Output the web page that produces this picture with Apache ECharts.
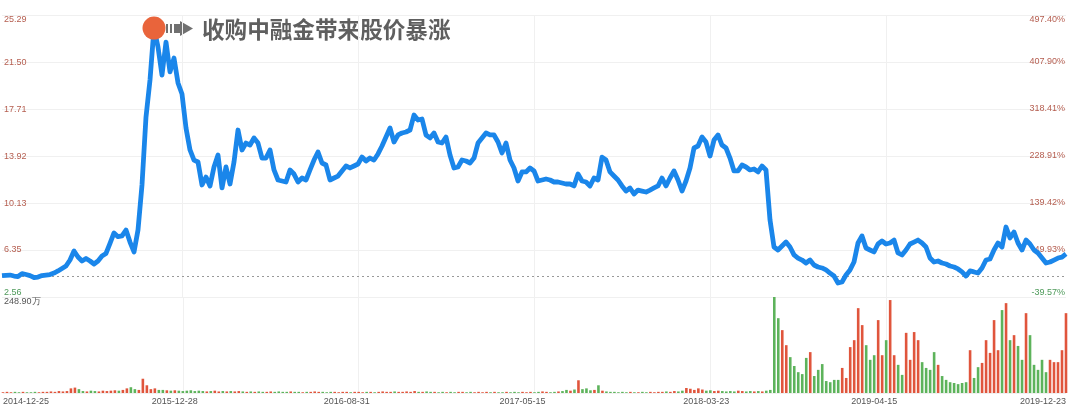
<!DOCTYPE html>
<html>
<head>
<meta charset="utf-8">
<script src="https://cdn.jsdelivr.net/npm/echarts@6/dist/echarts.min.js"></script>
<style>
html, body { margin: 0; padding: 0; background: #fff; }
#chart { width: 1080px; height: 409px; }
</style>
</head>
<body>
<div id="chart"></div>
<script>
// y axis ticks (price / change since base / volume)
var priceTicks = [2.56, 6.35, 10.13, 13.92, 17.71, 21.50, 25.29];
var pctTicks = [-39.57, 49.93, 139.42, 228.91, 318.41, 407.90, 497.40];
var basePrice = 4.236; // 0% line
var volMax = 248.90;   // 万

// x axis: index of each trading sample, labelled dates
var xLabelIdx = [0, 43, 86, 130, 176, 218, 266];
var xLabelText = ['2014-12-25', '2015-12-28', '2016-08-31', '2017-05-15', '2018-03-23', '2019-04-15', '2019-12-23'];
var gridLineIdx = [45, 89, 133, 177, 221];

var price = [
	4.28, 4.31, 4.33, 4.25, 4.21, 4.45, 4.37, 4.28, 4.13, 4.17,
	4.29, 4.33, 4.37, 4.49, 4.66, 4.86, 5.06, 5.54, 6.27, 5.78,
	5.46, 5.66, 5.46, 5.22, 5.46, 5.86, 6.07, 6.89, 7.72, 7.42,
	7.48, 7.96, 6.99, 6.19, 7.96, 11.59, 17.07, 20.05, 24.24, 22.71,
	20.45, 23.11, 20.70, 21.82, 19.81, 18.92, 16.18, 14.41, 13.60, 13.44,
	11.59, 12.23, 11.51, 13.04, 14.00, 11.35, 13.04, 11.67, 13.44, 16.02,
	14.41, 14.97, 14.81, 15.38, 14.97, 13.76, 13.76, 14.41, 12.80, 11.99,
	11.91, 11.83, 12.80, 12.47, 11.83, 12.15, 11.99, 12.80, 13.60, 14.25,
	13.36, 13.20, 11.99, 12.15, 12.31, 12.72, 13.12, 12.96, 13.12, 13.28,
	13.84, 13.52, 13.76, 13.60, 14.09, 14.73, 15.46, 16.18, 15.05, 15.62,
	15.78, 15.86, 16.02, 17.23, 16.83, 16.91, 15.62, 15.38, 15.78, 15.05,
	14.97, 15.46, 14.00, 12.96, 13.04, 13.60, 13.52, 13.36, 13.76, 14.97,
	15.38, 15.78, 15.62, 15.62, 15.05, 14.17, 14.97, 13.60, 12.96, 11.91,
	12.64, 12.64, 12.96, 12.72, 11.91, 11.99, 12.07, 11.99, 11.83, 11.83,
	11.75, 11.67, 11.67, 11.51, 12.47, 11.91, 11.83, 11.51, 12.15, 11.99,
	13.84, 13.60, 12.64, 12.31, 11.99, 11.51, 11.10, 11.35, 10.86, 11.18,
	11.10, 11.02, 11.18, 11.35, 11.51, 12.15, 11.51, 12.15, 12.72, 11.99,
	11.10, 11.91, 12.96, 14.57, 14.73, 15.46, 15.05, 13.92, 15.21, 15.62,
	14.81, 14.57, 13.76, 12.72, 12.72, 13.20, 13.04, 12.80, 12.88, 12.64,
	13.12, 12.80, 8.77, 6.59, 6.35, 6.67, 6.99, 6.59, 5.95, 5.70,
	5.54, 5.30, 5.54, 5.14, 4.98, 4.90, 4.74, 4.49, 4.25, 3.69,
	3.77, 4.33, 4.74, 5.38, 6.91, 7.48, 6.51, 6.35, 6.19, 6.83,
	7.07, 6.83, 6.91, 7.15, 6.11, 5.95, 6.35, 6.83, 6.99, 7.15,
	6.91, 6.59, 5.70, 5.38, 5.46, 5.30, 5.22, 5.06, 4.98, 4.82,
	4.58, 4.25, 4.66, 4.58, 4.49, 4.90, 5.54, 5.62, 6.35, 6.91,
	6.59, 8.20, 7.32, 7.80, 6.91, 6.35, 7.15, 6.83, 6.35, 6.11,
	5.70, 5.30, 5.38, 5.54, 5.70, 5.78, 6.03
];

// 成交量 (万)
var volume = [
	2, 3, 2, 3, 2, 3, 2, 2, 3, 2,
	3, 3, 4, 3, 5, 4, 5, 12, 14, 10,
	5, 4, 6, 5, 4, 6, 5, 6, 7, 6,
	8, 12, 15, 10, 8, 37, 20, 10, 12, 8,
	8, 7, 6, 7, 6, 5, 6, 7, 5, 6,
	5, 4, 5, 6, 4, 5, 4, 5, 4, 5,
	4, 3, 4, 3, 4, 3, 3, 4, 3, 4,
	3, 3, 4, 3, 3, 2, 3, 3, 4, 3,
	3, 2, 3, 3, 2, 3, 3, 2, 3, 3,
	2, 3, 3, 2, 3, 4, 3, 3, 4, 3,
	3, 4, 3, 5, 3, 3, 4, 3, 3, 2,
	3, 2, 3, 2, 3, 3, 2, 3, 2, 3,
	2, 3, 2, 3, 2, 2, 3, 2, 3, 2,
	3, 2, 3, 2, 3, 4, 3, 2, 3, 4,
	5, 8, 6, 9, 33, 10, 12, 7, 8, 20,
	6, 4, 3, 3, 2, 3, 2, 3, 2, 2,
	3, 2, 3, 2, 3, 3, 4, 3, 5, 4,
	6, 13, 11, 8, 12, 9, 6, 7, 5, 6,
	5, 4, 5, 4, 6, 5, 4, 5, 4, 5,
	4, 6, 8, 248.9, 194, 163, 124, 93, 70, 54,
	49, 91, 106, 44, 60, 75, 31, 28, 34, 34,
	65, 39, 119, 137, 220, 176, 124, 86, 98, 189,
	98, 137, 241, 98, 73, 47, 156, 86, 158, 137,
	80, 65, 60, 106, 73, 44, 34, 28, 26, 23,
	26, 28, 111, 39, 67, 78, 137, 104, 189, 111,
	215, 233, 137, 150, 122, 86, 207, 150, 73, 60,
	86, 54, 86, 80, 80, 111, 207
];

var upColor = '#e0553c';
var downColor = '#5db35b';
var labelRed = '#b55e50';
var labelGreen = '#4e9a5a';
var gridColor = '#f0f0f0';
var font = '"Liberation Sans", Arial, sans-serif';

var lastIdx = price.length - 1;
var priceData = price.map(function (v, i) { return [i, v]; });
var volData = volume.map(function (v, i) {
	var up = i === 0 ? true : price[i] >= price[i - 1];
	return { value: [i, v], itemStyle: { color: up ? upColor : downColor } };
});

var chart = echarts.init(document.getElementById('chart'));

chart.setOption({
	animation: false,
	backgroundColor: '#fff',
	grid: [
		{ left: 2, right: 14, top: 15, height: 282 },
		{ left: 2, right: 14, top: 297, height: 96 }
	],
	xAxis: [
		{
			type: 'value', gridIndex: 0, min: 0, max: lastIdx,
			axisLine: { show: false },
			axisTick: { show: false, customValues: gridLineIdx },
			axisLabel: { show: false },
			splitLine: { show: true, lineStyle: { color: gridColor } }
		},
		{
			type: 'value', gridIndex: 1, min: 0, max: lastIdx,
			axisLine: { show: false },
			axisTick: { show: false, customValues: gridLineIdx },
			axisLabel: {
				customValues: xLabelIdx,
				formatter: function (v) { return xLabelText[xLabelIdx.indexOf(v)]; },
				alignMinLabel: 'left',
				alignMaxLabel: 'right',
				color: '#555',
				fontSize: 9,
				fontFamily: font,
				margin: 4
			},
			splitLine: { show: true, lineStyle: { color: gridColor } }
		}
	],
	yAxis: [
		{
			type: 'value', gridIndex: 0, position: 'left',
			min: priceTicks[0], max: priceTicks[priceTicks.length - 1],
			axisLine: { show: false },
			axisTick: { show: false, customValues: priceTicks },
			axisLabel: {
				inside: true,
				margin: 2,
				customValues: priceTicks,
				formatter: function (v) { return v.toFixed(2); },
				color: function (v) { return v <= priceTicks[0] ? labelGreen : labelRed; },
				fontSize: 9,
				fontFamily: font,
				verticalAlignMinLabel: 'bottom',
				verticalAlignMaxLabel: 'top'
			},
			splitLine: { show: true, lineStyle: { color: gridColor } }
		},
		{
			type: 'value', gridIndex: 0, position: 'right',
			min: pctTicks[0], max: pctTicks[pctTicks.length - 1],
			axisLine: { show: false },
			axisTick: { show: false, customValues: pctTicks },
			axisLabel: {
				inside: true,
				margin: 1,
				customValues: pctTicks,
				formatter: function (v) { return v.toFixed(2) + '%'; },
				color: function (v) { return v < 0 ? labelGreen : labelRed; },
				fontSize: 9,
				fontFamily: font,
				verticalAlignMinLabel: 'bottom',
				verticalAlignMaxLabel: 'top'
			},
			splitLine: { show: false }
		},
		{
			type: 'value', gridIndex: 1,
			min: 0, max: volMax,
			axisLine: { show: false },
			axisTick: { show: false, customValues: [0, volMax] },
			axisLabel: {
				inside: true,
				margin: 1,
				customValues: [volMax],
				formatter: function (v) { return v.toFixed(2) + '万'; },
				color: '#555',
				fontSize: 9,
				fontFamily: font,
				verticalAlign: 'top'
			},
			splitLine: { show: true, lineStyle: { color: gridColor } }
		}
	],
	series: [
		{
			name: '股价',
			type: 'line',
			xAxisIndex: 0,
			yAxisIndex: 0,
			data: priceData,
			showSymbol: false,
			lineStyle: { color: '#1a86ea', width: 4.8, join: 'round' },
			itemStyle: { color: '#1a86ea' },
			z: 3,
			markLine: {
				silent: true,
				symbol: 'none',
				label: { show: false },
				lineStyle: { color: '#999', type: [2, 3], width: 1 },
				data: [{ yAxis: basePrice }],
				z: 1
			},
			markPoint: {
				symbol: 'circle',
				symbolSize: 23,
				itemStyle: { color: '#e9643b' },
				label: { show: false },
				data: [{ type: 'max' }]
			}
		},
		{
			name: '成交量',
			type: 'bar',
			xAxisIndex: 1,
			yAxisIndex: 2,
			barWidth: 2.6,
			data: volData
		}
	],
	graphic: [
		{ type: 'rect', left: 166, top: 24, shape: { width: 2, height: 9 }, style: { fill: '#707070' } },
		{ type: 'rect', left: 170, top: 24, shape: { width: 2, height: 9 }, style: { fill: '#707070' } },
		{ type: 'rect', left: 174, top: 24, shape: { width: 6, height: 9 }, style: { fill: '#707070' } },
		{ type: 'polygon', shape: { points: [[180, 21], [193, 28.5], [180, 36]] }, style: { fill: '#707070' } },
		{
			type: 'text', left: 202, top: 18,
			style: {
				text: '收购中融金带来股价暴涨',
				fill: '#5f5f5f',
				font: 'bold 22.6px "Noto Sans CJK SC", sans-serif'
			}
		}
	]
});
</script>
</body>
</html>
